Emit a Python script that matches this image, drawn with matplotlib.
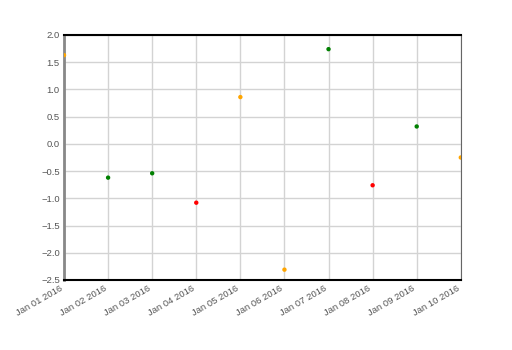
import numpy as np
import pandas as pd
import matplotlib
matplotlib.use("Agg")
from matplotlib import pyplot as plt
import matplotlib.dates as mdates

plt.rcParams['font.family'] = ['Liberation Sans', 'DejaVu Sans']

dates = pd.date_range('2016-01-01', periods=10, freq='D')
values = [1.63, -0.62, -0.54, -1.08, 0.86, -2.31, 1.74, -0.76, 0.32, -0.25]
colors = ['orange', 'green', 'green', 'red', 'orange',
          'orange', 'green', 'red', 'green', 'orange']

fig, ax = plt.subplots(figsize=(5.12, 3.5), dpi=100)
fig.subplots_adjust(left=0.125, right=0.9, top=0.9, bottom=0.2)

ax.scatter(dates, values, c=colors, s=10, zorder=3, linewidths=0)

ax.set_xlim(dates[0], dates[-1])
ax.set_ylim(-2.5, 2.0)
ax.set_yticks(np.arange(-2.5, 2.01, 0.5))
ax.xaxis.set_major_locator(mdates.DayLocator())
ax.xaxis.set_major_formatter(mdates.DateFormatter('%b %d %Y'))
ax.grid(True, color='#d3d3d3', linewidth=1)
ax.set_axisbelow(True)

ax.tick_params(length=0, labelsize=6.8, colors='#555555', pad=3)
for lab in ax.get_xticklabels():
    lab.set_rotation(30)
    lab.set_ha('right')

ax.spines['left'].set_color('#888888')
ax.spines['left'].set_linewidth(2)
ax.spines['right'].set_color('#666666')
ax.spines['top'].set_color('black')
ax.spines['bottom'].set_color('black')
ax.spines['top'].set_linewidth(1.5)
ax.spines['bottom'].set_linewidth(1.5)

fig.savefig('out.png')
